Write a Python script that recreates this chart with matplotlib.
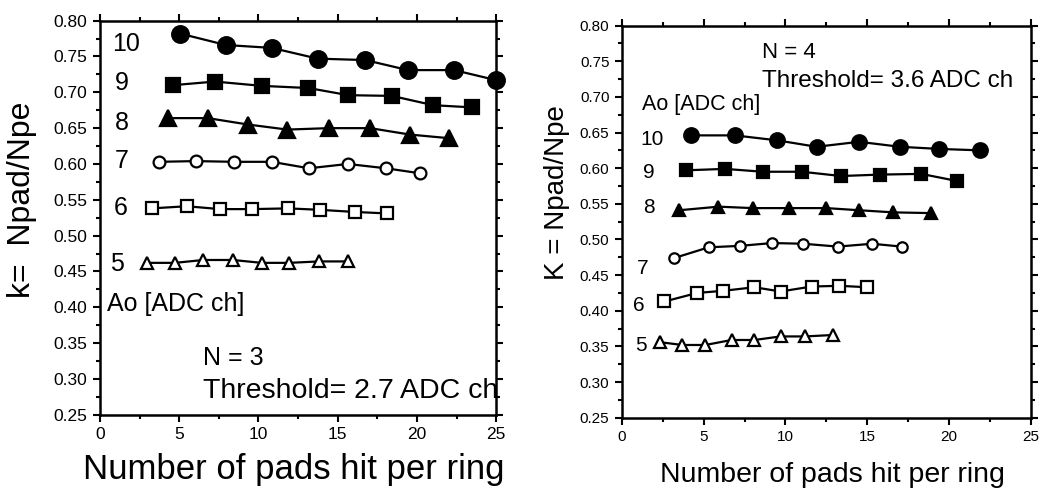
import numpy as np
import matplotlib
matplotlib.use("Agg")
import matplotlib.pyplot as plt
from matplotlib.ticker import MultipleLocator

plt.rcParams["font.family"] = ["Liberation Sans", "DejaVu Sans"]

# Ao [ADC ch] values for each curve
AO = [10, 9, 8, 7, 6, 5]

# ---- left panel: N = 3, threshold 2.7 ADC ch ----
N3_X = {
    10: [5.05, 7.95, 10.84, 13.74, 16.75, 19.44, 22.35, 25.0],
    9: [4.63, 7.26, 10.21, 13.15, 15.68, 18.42, 21.04, 23.47],
    8: [4.27, 6.80, 9.36, 11.82, 14.44, 17.05, 19.57, 22.01],
    7: [3.72, 6.04, 8.48, 10.84, 13.19, 15.64, 18.04, 20.20],
    6: [3.26, 5.47, 7.58, 9.58, 11.89, 13.89, 16.10, 18.10],
    5: [2.95, 4.73, 6.52, 8.38, 10.21, 11.93, 13.83, 15.68],
}
N3_K = {
    10: [0.782, 0.766, 0.762, 0.747, 0.745, 0.731, 0.731, 0.717],
    9: [0.710, 0.715, 0.709, 0.706, 0.696, 0.695, 0.682, 0.679],
    8: [0.664, 0.664, 0.655, 0.648, 0.650, 0.650, 0.641, 0.636],
    7: [0.603, 0.604, 0.603, 0.603, 0.594, 0.600, 0.594, 0.587],
    6: [0.538, 0.541, 0.537, 0.537, 0.538, 0.536, 0.533, 0.531],
    5: [0.462, 0.462, 0.466, 0.466, 0.462, 0.462, 0.464, 0.464],
}

# ---- right panel: N = 4, threshold 3.6 ADC ch ----
N4_X = {
    10: [4.2, 6.9, 9.5, 11.9, 14.5, 17.0, 19.4, 21.9],
    9: [3.9, 6.3, 8.6, 11.0, 13.4, 15.8, 18.3, 20.5],
    8: [3.5, 5.9, 8.0, 10.2, 12.5, 14.5, 16.6, 18.9],
    7: [3.2, 5.3, 7.2, 9.2, 11.1, 13.2, 15.3, 17.1],
    6: [2.6, 4.6, 6.2, 8.1, 9.7, 11.6, 13.3, 15.0],
    5: [2.3, 3.7, 5.1, 6.7, 8.1, 9.7, 11.2, 12.9],
}
N4_K = {
    10: [0.646, 0.646, 0.639, 0.630, 0.637, 0.630, 0.627, 0.625],
    9: [0.597, 0.599, 0.595, 0.595, 0.589, 0.591, 0.592, 0.582],
    8: [0.541, 0.546, 0.544, 0.544, 0.544, 0.541, 0.538, 0.537],
    7: [0.474, 0.489, 0.491, 0.495, 0.494, 0.490, 0.494, 0.490],
    6: [0.413, 0.425, 0.428, 0.433, 0.427, 0.434, 0.435, 0.433],
    5: [0.356, 0.352, 0.352, 0.359, 0.359, 0.364, 0.364, 0.366],
}

# curve label positions (x, baseline y) in data units
N3_LABEL_POS = {10: (0.74, 0.757), 9: (0.95, 0.703), 8: (0.95, 0.648),
                7: (0.95, 0.595), 6: (0.9, 0.529), 5: (0.65, 0.450)}
N4_LABEL_POS = {10: (1.1, 0.632), 9: (1.3, 0.586), 8: (1.3, 0.537),
                7: (0.9, 0.452), 6: (0.7, 0.400), 5: (0.8, 0.344)}

# marker style per Ao: (marker, filled)
STYLE = {10: ("o", True), 9: ("s", True), 8: ("^", True),
         7: ("o", False), 6: ("s", False), 5: ("^", False)}
N3_MS = {10: 12, 9: 10.5, 8: 11, 7: 8.5, 6: 8.5, 5: 9}
N4_MS = {10: 10.5, 9: 8.5, 8: 9, 7: 7.5, 6: 8, 5: 8}


def style_axes(ax, tick_fs):
    ax.set_xlim(0, 25)
    ax.set_ylim(0.25, 0.80)
    ax.xaxis.set_major_locator(MultipleLocator(5))
    ax.xaxis.set_minor_locator(MultipleLocator(2.5))
    ax.yaxis.set_major_locator(MultipleLocator(0.05))
    ax.yaxis.set_minor_locator(MultipleLocator(0.025))
    ax.yaxis.set_major_formatter(matplotlib.ticker.FormatStrFormatter("%.2f"))
    for s in ax.spines.values():
        s.set_linewidth(1.8)
    ax.tick_params(which="both", direction="out", top=True, right=True,
                   labeltop=False, labelright=False, width=1.5)
    ax.tick_params(which="major", length=5, labelsize=tick_fs, pad=4)
    ax.tick_params(which="minor", length=3)


def draw_curves(ax, xs, ks, sizes):
    for ao in AO:
        m, filled = STYLE[ao]
        ax.plot(xs[ao], ks[ao], color="black", lw=1.6, marker=m,
                ms=sizes[ao], mfc="black" if filled else "white",
                mec="black", mew=1.6, clip_on=False, zorder=3)


fig = plt.figure(figsize=(10.48, 4.92), dpi=100)
ax1 = fig.add_axes([0.0954, 0.157, 0.378, 0.801])
ax2 = fig.add_axes([0.5935, 0.151, 0.390, 0.797])

# left
style_axes(ax1, 12.5)
draw_curves(ax1, N3_X, N3_K, N3_MS)
for ao in AO:
    x, y = N3_LABEL_POS[ao]
    ax1.text(x, y, str(ao), fontsize=18, ha="left", va="baseline")
ax1.text(0.42, 0.395, "Ao [ADC ch]", fontsize=18, ha="left", va="baseline")
ax1.text(6.5, 0.320, "N = 3", fontsize=18, ha="left", va="baseline")
ax1.text(6.5, 0.274, "Threshold= 2.7 ADC ch", fontsize=20.5, ha="left",
         va="baseline", clip_on=True, zorder=1)
ax1.set_xlabel("Number of pads hit per ring", fontsize=25)
ax1.set_ylabel("k=  Npad/Npe", fontsize=23, va="center")
ax1.xaxis.set_label_coords(0.49, -0.14)
ax1.xaxis.label.set_va("center")
ax1.yaxis.set_label_coords(-0.198, 0.545)

# right
style_axes(ax2, 11)
draw_curves(ax2, N4_X, N4_K, N4_MS)
for ao in AO:
    x, y = N4_LABEL_POS[ao]
    ax2.text(x, y, str(ao), fontsize=15, ha="left", va="baseline")
ax2.text(1.2, 0.681, "Ao [ADC ch]", fontsize=15.5, ha="left", va="baseline")
ax2.text(8.56, 0.754, "N = 4", fontsize=16, ha="left", va="baseline")
ax2.text(8.56, 0.714, "Threshold= 3.6 ADC ch", fontsize=17.5, ha="left",
         va="baseline")
ax2.set_xlabel("Number of pads hit per ring", fontsize=20.5)
ax2.set_ylabel("K = Npad/Npe", fontsize=20, va="center")
ax2.xaxis.set_label_coords(0.514, -0.145)
ax2.xaxis.label.set_va("center")
ax2.yaxis.set_label_coords(-0.16, 0.574)

fig.savefig("out.png", dpi=100)
